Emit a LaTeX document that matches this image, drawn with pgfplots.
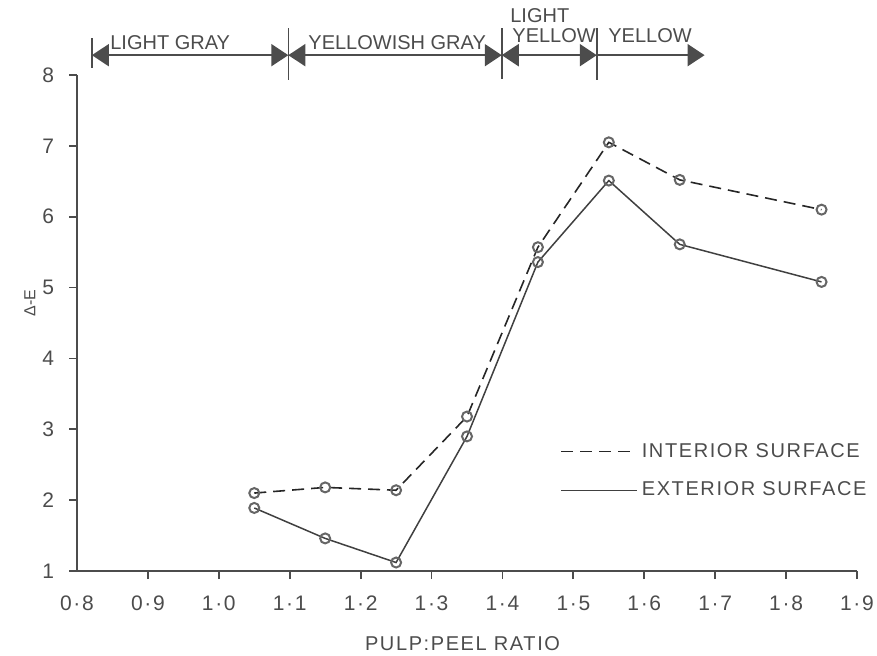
\documentclass[border=0pt]{standalone}
\usepackage{fontspec}
\setmainfont{Liberation Sans}
\newfontfamily\spaced[LetterSpace=8]{Liberation Sans}
\usepackage{pgfplots}
\pgfplotsset{compat=1.18}
\usetikzlibrary{arrows.meta}
\definecolor{ink}{gray}{0.30}
\begin{document}
\begin{tikzpicture}
\path[use as bounding box] (0,0) rectangle (438.5pt,327.5pt);
\begin{axis}[
  at={(38.5pt,42pt)}, anchor=south west,
  scale only axis, width=390pt, height=248pt,
  xmin=0.8, xmax=1.9, ymin=1, ymax=8,
  axis x line=bottom, axis y line=left,
  axis line style={-, ink, line width=1.1pt},
  tick style={ink, line width=0.9pt},
  tick align=outside,
  major tick length=4pt,
  xtick={0.9,1.0,1.1,1.2,1.3,1.4,1.5,1.6,1.7,1.8,1.9},
  xticklabels={0·9,1·0,1·1,1·2,1·3,1·4,1·5,1·6,1·7,1·8,1·9},
  extra x ticks={0.8}, extra x tick labels={0·8},
  extra x tick style={tick style={draw=none}},
  ytick={1,2,3,4,5,6,7,8},
  yticklabels={1,2,3,4,5,6,7,8},
  /pgf/number format/assume math mode=true,
  ticklabel style={font=\spaced\fontsize{10.5}{12}\selectfont, text=ink},
  xticklabel style={yshift=-5pt},
  yticklabel style={xshift=-4pt},
  clip=false,
  legend style={draw=none, fill=none, at={(0.619,0.2016)}, anchor=west,
    row sep=7pt, font=\spaced\fontsize{10}{12}\selectfont, text=ink,
    inner sep=0pt},
  legend cell align=left,
  legend image code/.code={\draw[#1, mark=none] (0pt,0pt) -- (38pt,0pt);},
]
\addplot[black!85, line width=0.8pt, dash pattern=on 6pt off 3.5pt,
  mark=o, mark size=2.5pt, mark options={solid, line width=1pt, draw=black!60, fill=white}]
  coordinates {(1.05,2.10)(1.15,2.18)(1.25,2.14)(1.35,3.18)(1.45,5.57)(1.55,7.05)(1.65,6.52)(1.85,6.10)};
\addlegendentry{INTERIOR SURFACE}
\addplot[black!75, line width=0.75pt,
  mark=o, mark size=2.5pt, mark options={solid, line width=1pt, draw=black!60, fill=white}]
  coordinates {(1.05,1.89)(1.15,1.46)(1.25,1.12)(1.35,2.90)(1.45,5.36)(1.55,6.51)(1.65,5.61)(1.85,5.08)};
\addlegendentry{EXTERIOR SURFACE}

% colour bands at top
\draw[ink, line width=1pt] (axis cs:0.821,8.52) -- (axis cs:0.821,8.10);
\draw[ink, line width=0.8pt] (axis cs:1.098,8.663) -- (axis cs:1.098,7.93);
\draw[ink, line width=0.8pt] (axis cs:1.399,8.663) -- (axis cs:1.399,7.95);
\draw[ink, line width=0.8pt] (axis cs:1.533,8.663) -- (axis cs:1.533,7.93);
\draw[ink, line width=1pt, {Triangle[length=8.5pt,width=11pt]}-{Triangle[length=8.5pt,width=11pt]}] (axis cs:0.821,8.28) -- (axis cs:1.098,8.28);
\draw[ink, line width=1pt, {Triangle[length=8.5pt,width=11pt]}-{Triangle[length=8.5pt,width=11pt]}] (axis cs:1.098,8.28) -- (axis cs:1.399,8.28);
\draw[ink, line width=1pt, {Triangle[length=8.5pt,width=11pt]}-{Triangle[length=8.5pt,width=11pt]}] (axis cs:1.399,8.28) -- (axis cs:1.533,8.28);
\draw[ink, line width=1pt, -{Triangle[length=8.5pt,width=11pt]}] (axis cs:1.533,8.28) -- (axis cs:1.685,8.28);
\node[anchor=west, inner sep=0pt, text=ink, font=\fontsize{10}{12}\selectfont] at (axis cs:0.8465,8.459) {LIGHT GRAY};
\node[anchor=west, inner sep=0pt, text=ink, font=\fontsize{10}{12}\selectfont] at (axis cs:1.1258,8.459) {YELLOWISH GRAY};
\node[anchor=west, inner sep=0pt, text=ink, font=\fontsize{10}{12}\selectfont] at (axis cs:1.4106,8.84) {LIGHT};
\node[anchor=west, inner sep=0pt, text=ink, font=\fontsize{10}{12}\selectfont] at (axis cs:1.4135,8.55) {YELLOW};
\node[anchor=west, inner sep=0pt, text=ink, font=\fontsize{10}{12}\selectfont] at (axis cs:1.5488,8.55) {YELLOW};
% axis titles
\node[text=ink, font=\spaced\fontsize{10}{12}\selectfont] at (axis cs:1.3437,-0.03) {PULP:PEEL RATIO};
\node[text=ink, rotate=90, font=\fontsize{8}{10}\selectfont] at (axis cs:0.7337,4.78) {Δ-E};
\end{axis}
\end{tikzpicture}
\end{document}
